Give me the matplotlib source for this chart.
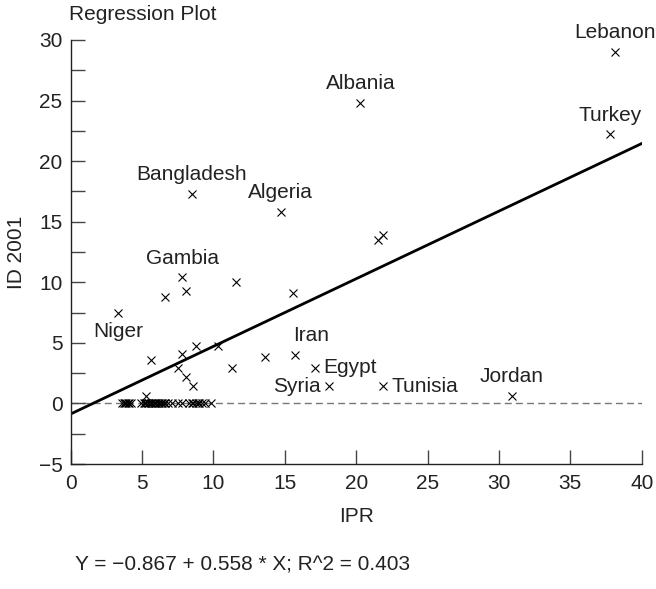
import matplotlib.pyplot as plt
import numpy as np

plt.rcParams['font.family'] = ['Liberation Sans', 'DejaVu Sans']
plt.rcParams['font.size'] = 15

# labelled countries
names = ['Lebanon', 'Turkey', 'Albania', 'Bangladesh', 'Algeria', 'Gambia',
         'Niger', 'Iran', 'Egypt', 'Syria', 'Tunisia', 'Jordan']
name_x = [38.1, 37.8, 20.3, 8.5, 14.7, 7.8, 3.3, 15.7, 17.1, 18.1, 21.9, 30.9]
name_y = [29.0, 22.2, 24.8, 17.3, 15.8, 10.4, 7.5, 4.0, 2.95, 1.4, 1.4, 0.6]
# where each label sits relative to its point
name_pos = ['above', 'above', 'above', 'above', 'above', 'above',
            'below', 'aboveright', 'right', 'left', 'right', 'above']

# unlabelled countries
other_x = [21.5, 21.9, 8.1, 6.6, 11.6, 15.6, 5.6, 7.8, 8.8, 10.3, 7.5, 8.1,
           8.6, 11.3, 5.3, 13.6]
other_y = [13.5, 13.9, 9.3, 8.8, 10.0, 9.1, 3.6, 4.1, 4.7, 4.7, 2.9, 2.2,
           1.4, 2.95, 0.6, 3.8]

# countries with ID 2001 = 0
zero_x = [3.6, 3.7, 3.8, 3.9, 4.0, 4.1, 4.2,
          4.9, 5.1, 5.2, 5.3, 5.4, 5.5, 5.6, 5.7, 5.8, 5.9, 6.0, 6.1, 6.2,
          6.3, 6.4, 6.5, 6.6, 6.8, 7.1, 7.5, 7.8,
          8.3, 8.5, 8.6, 8.8, 8.9, 9.0, 9.2, 9.4, 9.8]

intercept = -0.867
slope = 0.558
r2 = 0.403

fig = plt.figure(figsize=(6.56, 5.89), dpi=100)
ax = fig.add_axes([0.1078, 0.2122, 0.8704, 0.7199])

ax.axhline(0, color='#777777', lw=1, ls=(0, (5, 3)), zorder=1)
xs = np.array([0, 40])
ax.plot(xs, intercept + slope * xs, color='black', lw=2, zorder=2)

mk = dict(marker='x', ms=6, mew=0.8, color='black', ls='none', zorder=3)
ax.plot(name_x, name_y, **mk)
ax.plot(other_x, other_y, **mk)
ax.plot(zero_x, np.zeros(len(zero_x)), **mk)

offsets = {
    'above': ((0, 7), 'center', 'bottom'),
    'below': ((0, -7), 'center', 'top'),
    'aboveright': ((-1, 7), 'left', 'bottom'),
    'right': ((6, 0), 'left', 'center'),
    'left': ((-6, 0), 'right', 'center'),
}
for n, x, y, p in zip(names, name_x, name_y, name_pos):
    off, ha, va = offsets[p]
    ax.annotate(n, (x, y), xytext=off, textcoords='offset points',
                ha=ha, va=va, fontsize=15, color='#222222')

ax.set_xlim(0, 40)
ax.set_ylim(-5, 30)
ax.set_xticks(np.arange(0, 41, 5))
ax.set_yticks(np.arange(-5, 31, 5))
ax.set_yticks(np.arange(-2.5, 30, 5), minor=True)
ax.tick_params(direction='in', length=10, width=1, color='#444444',
               labelsize=15, labelcolor='#222222')
ax.tick_params(axis='x', pad=7)
ax.tick_params(axis='y', pad=6)
ax.tick_params(which='minor', direction='in', length=10, width=1, color='#444444')

for s in ['top', 'right']:
    ax.spines[s].set_visible(False)
for s in ['left', 'bottom']:
    ax.spines[s].set_linewidth(1)
    ax.spines[s].set_color('#222222')

ax.set_xlabel('IPR', fontsize=15, color='#222222', va='top')
ax.xaxis.set_label_coords(0.5, -0.102)
ax.set_ylabel('ID 2001', fontsize=15, color='#222222')
ax.yaxis.set_label_coords(-0.078, 0.5)

fig.text(69 / 656, 1 - 15 / 589, 'Regression Plot', fontsize=15,
         color='#222222', ha='left', va='center')
fig.text(75 / 656, 1 - 565 / 589,
         'Y = \u22120.867 + 0.558 * X; R^2 = 0.403', fontsize=15,
         color='#222222', ha='left', va='center')

fig.savefig('out.png', dpi=100)
